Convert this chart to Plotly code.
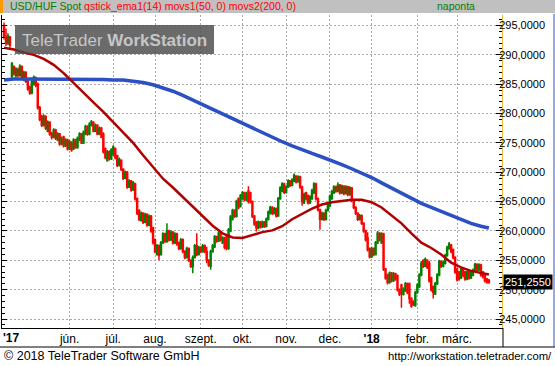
import plotly.graph_objects as go
import pandas as pd

# ---------------- data ----------------
opens = [
    295.0, 293.0, 292.0, 293.0, 286.3, 288.0, 286.5, 287.5, 286.5, 288.0,
    285.8, 287.0, 285.5, 284.5, 283.5, 285.0, 286.0, 285.0, 281.0, 279.5,
    278.0, 279.5, 277.0, 278.5, 276.5, 276.0, 277.2, 275.5, 276.5, 274.8,
    276.0, 274.5, 275.5, 274.0, 275.0, 274.0, 275.5, 274.2, 275.5, 276.5,
    275.0, 276.5, 277.8, 276.5, 278.0, 278.5, 277.0, 278.0, 276.5, 277.5,
    276.5, 274.0, 272.0, 273.5, 272.3, 273.0, 274.0, 272.8, 271.2, 272.0,
    270.5, 269.0, 270.0, 267.5, 268.5, 267.0, 268.0, 265.5, 263.5, 261.8,
    263.0, 261.5, 262.8, 261.0, 262.5, 260.5, 258.5, 256.0, 257.5, 256.0,
    258.0, 259.5, 258.2, 260.0, 258.5, 259.8, 258.0, 259.5, 258.0, 257.0,
    258.5, 256.5, 255.5, 257.0, 255.0, 254.0, 255.5, 257.5, 256.0, 257.2,
    256.5, 257.5, 256.5, 255.0, 254.0, 256.5, 257.3, 259.0, 258.3, 259.6,
    258.0, 258.8, 259.3, 257.0, 260.0, 262.0, 263.5, 262.5, 265.5, 264.2,
    265.5, 266.5, 265.3, 266.8, 266.5, 265.0, 262.5, 261.5, 260.5, 261.5,
    260.7, 261.5, 260.8, 262.0, 263.0, 264.0, 263.0, 263.8, 262.6, 265.5,
    266.8, 268.0, 266.6, 267.5, 268.5, 267.8, 268.5, 269.3, 268.4, 269.2,
    267.5, 264.8, 266.5, 266.0, 264.8, 265.5, 266.5, 268.0, 265.5, 263.6,
    262.0, 263.0, 262.0, 263.5, 264.3, 265.5, 266.5, 267.5, 266.8, 267.8,
    266.5, 267.6, 266.4, 267.5, 266.2, 267.3, 265.2, 264.0, 263.0, 262.0,
    262.6, 261.3, 260.0, 258.8, 257.0, 255.6, 257.0, 256.0, 258.0, 259.6,
    258.0, 259.5, 253.5, 252.5, 251.2, 252.8, 251.5, 252.7, 252.4, 250.0,
    250.8, 249.2, 249.8, 251.0, 251.0, 248.5, 248.0, 247.3, 249.5, 250.5,
    252.5, 255.0, 254.0, 255.0, 254.5, 252.0, 250.5, 249.3, 251.0, 252.5,
    254.8, 254.0, 254.5, 255.8, 257.0, 257.6, 256.8, 255.5, 253.5, 253.0,
    252.0, 253.5, 253.0, 251.8, 253.0, 252.0, 252.5, 253.2, 254.3, 253.4,
    254.2, 253.0, 252.5, 251.8, 251.6,
]
closes = [
    293.0, 292.0, 293.2, 291.7, 288.5, 286.8, 287.6, 286.5, 288.0, 286.0,
    287.0, 285.5, 284.2, 283.5, 285.5, 286.2, 284.8, 281.0, 279.0, 278.0,
    279.5, 277.5, 278.5, 276.5, 276.0, 277.2, 275.8, 276.5, 274.8, 275.8,
    274.5, 275.5, 274.0, 275.2, 273.8, 275.5, 274.2, 275.8, 276.5, 275.0,
    276.8, 277.8, 276.5, 278.2, 278.6, 277.0, 278.0, 276.5, 277.5, 276.0,
    273.5, 272.5, 273.5, 272.3, 273.8, 274.3, 272.5, 271.2, 272.2, 270.5,
    269.0, 270.0, 267.5, 268.5, 267.0, 268.2, 265.5, 263.0, 262.0, 263.0,
    261.5, 262.8, 261.0, 262.5, 260.0, 258.0, 256.5, 257.5, 255.8, 258.0,
    259.5, 258.2, 260.0, 258.5, 259.8, 258.0, 259.5, 257.8, 257.0, 258.5,
    256.5, 255.5, 257.0, 255.0, 254.0, 255.5, 257.5, 256.0, 257.2, 256.5,
    257.5, 256.5, 255.0, 254.2, 256.5, 257.5, 259.0, 258.3, 259.6, 258.5,
    258.8, 257.2, 257.0, 260.2, 262.4, 263.5, 262.5, 265.0, 264.0, 266.0,
    266.5, 265.3, 266.4, 265.0, 265.0, 262.5, 261.2, 260.5, 261.5, 260.7,
    261.5, 260.8, 262.0, 263.2, 264.0, 263.0, 263.8, 262.6, 265.5, 267.3,
    268.0, 266.6, 267.5, 268.5, 267.8, 268.7, 269.5, 268.4, 269.2, 267.5,
    265.0, 266.2, 265.5, 264.8, 265.8, 266.9, 268.0, 265.5, 263.6, 262.0,
    263.0, 262.0, 263.5, 264.5, 265.9, 266.7, 267.5, 266.8, 267.8, 266.5,
    267.6, 266.4, 267.5, 266.2, 267.3, 265.2, 264.0, 263.0, 262.0, 262.6,
    261.3, 260.0, 258.5, 256.8, 255.6, 257.0, 256.0, 258.0, 259.6, 258.5,
    259.5, 253.5, 252.0, 251.2, 252.8, 251.5, 252.7, 251.8, 250.0, 249.2,
    249.3, 250.1, 251.0, 249.5, 248.5, 247.2, 247.5, 249.5, 250.8, 252.5,
    254.5, 254.0, 255.2, 253.8, 251.5, 250.0, 249.5, 251.0, 252.5, 254.8,
    254.0, 254.6, 255.8, 257.2, 257.8, 256.5, 255.5, 253.0, 251.7, 251.8,
    253.5, 252.4, 251.8, 253.0, 252.0, 253.0, 253.3, 254.3, 253.4, 254.2,
    252.5, 252.2, 251.5, 251.3, 251.255,
]
highs = [
    295.5, 294.5, 293.7, 293.2, 288.8, 288.2, 287.9, 287.8, 288.4, 288.2,
    287.3, 287.2, 285.8, 284.8, 285.8, 286.5, 286.3, 285.3, 281.3, 279.8,
    279.9, 279.7, 278.8, 278.7, 276.9, 277.5, 277.4, 276.8, 276.7, 276.1,
    276.2, 275.8, 275.7, 275.5, 275.3, 275.8, 275.7, 276.1, 276.8, 276.7,
    277.1, 278.1, 278.0, 278.5, 278.9, 278.7, 278.3, 278.2, 277.8, 277.7,
    276.8, 274.2, 273.8, 273.7, 274.1, 274.6, 274.2, 273.0, 272.5, 272.2,
    270.7, 270.3, 270.2, 268.8, 268.7, 268.5, 268.2, 265.7, 263.7, 263.3,
    263.2, 263.1, 263.0, 262.8, 262.7, 260.7, 258.7, 257.8, 257.7, 258.3,
    259.8, 259.7, 261.3, 260.2, 260.1, 260.0, 259.8, 259.7, 258.2, 258.8,
    258.7, 256.7, 257.3, 257.2, 255.2, 255.8, 257.8, 259.6, 257.5, 257.4,
    257.8, 257.7, 257.3, 255.2, 256.8, 257.8, 259.3, 259.2, 259.9, 259.8,
    259.1, 259.0, 259.5, 260.5, 262.7, 263.8, 263.7, 265.3, 265.7, 266.3,
    266.8, 266.7, 266.7, 267.6, 266.7, 265.2, 262.7, 261.7, 261.8, 261.7,
    261.8, 261.7, 262.3, 263.5, 264.3, 264.2, 264.1, 264.0, 265.8, 267.6,
    268.3, 268.2, 267.8, 268.8, 268.7, 269.0, 269.8, 269.5, 269.5, 269.4,
    267.7, 266.5, 266.7, 266.2, 266.1, 267.2, 268.3, 268.2, 265.7, 263.8,
    263.3, 263.2, 263.8, 264.8, 266.2, 267.0, 267.8, 267.7, 268.3, 268.0,
    267.9, 267.8, 267.8, 267.7, 267.6, 267.5, 265.4, 264.2, 263.2, 262.9,
    262.8, 261.5, 260.2, 259.8, 257.2, 257.3, 257.2, 258.3, 260.0, 259.8,
    259.8, 259.7, 253.7, 252.7, 253.1, 253.0, 253.0, 252.9, 252.6, 250.2,
    251.0, 250.4, 251.3, 251.2, 251.2, 248.7, 248.2, 249.8, 251.1, 252.8,
    254.9, 255.2, 255.5, 255.2, 254.9, 252.2, 250.7, 251.3, 252.8, 255.1,
    255.0, 254.9, 256.1, 257.5, 258.1, 257.8, 257.0, 255.7, 253.7, 253.2,
    253.8, 253.7, 253.2, 253.3, 253.2, 253.3, 253.6, 254.6, 254.5, 254.5,
    254.4, 253.2, 252.7, 252.0, 251.8,
]
lows = [
    292.6, 291.5, 291.7, 291.2, 286.0, 286.5, 286.0, 286.2, 286.3, 285.7,
    285.5, 285.2, 283.9, 283.2, 283.3, 284.8, 284.5, 280.7, 278.7, 277.7,
    277.8, 277.2, 276.8, 276.2, 275.6, 275.8, 275.5, 275.3, 274.5, 274.6,
    274.2, 274.3, 273.7, 273.8, 273.5, 273.8, 274.0, 274.0, 275.3, 274.8,
    274.8, 276.3, 276.2, 276.3, 277.8, 276.8, 276.8, 276.3, 276.3, 275.8,
    273.2, 272.2, 271.8, 272.0, 272.1, 272.8, 272.2, 270.9, 271.0, 270.2,
    268.7, 268.8, 267.2, 267.3, 266.7, 266.8, 265.2, 262.7, 261.7, 261.6,
    261.2, 261.3, 260.7, 260.8, 259.7, 257.7, 256.2, 255.8, 255.0, 255.8,
    257.8, 258.0, 258.0, 258.2, 258.3, 257.7, 257.8, 257.5, 256.7, 256.8,
    256.2, 255.2, 255.3, 254.7, 253.7, 252.8, 255.3, 255.7, 255.8, 256.2,
    256.3, 256.2, 254.5, 253.9, 253.4, 256.3, 257.1, 258.0, 258.1, 258.2,
    257.8, 256.9, 256.7, 256.8, 259.8, 261.8, 262.2, 262.3, 263.7, 264.0,
    265.3, 265.0, 265.1, 264.7, 264.7, 262.2, 260.9, 259.9, 260.3, 260.4,
    260.5, 260.5, 260.6, 261.8, 262.8, 262.7, 262.8, 262.3, 262.4, 265.3,
    266.6, 266.3, 266.4, 267.3, 267.5, 267.6, 268.3, 268.1, 268.2, 267.2,
    264.3, 264.6, 265.2, 264.5, 264.6, 265.3, 266.3, 265.2, 263.3, 260.2,
    261.8, 261.7, 261.8, 263.3, 264.1, 265.3, 266.3, 266.5, 266.6, 266.2,
    266.3, 266.1, 266.2, 265.9, 266.0, 264.9, 263.7, 262.7, 261.7, 261.8,
    261.0, 259.7, 258.2, 256.5, 255.3, 255.4, 255.7, 255.8, 257.8, 258.2,
    257.8, 253.2, 251.7, 250.9, 251.0, 251.2, 251.3, 251.5, 249.7, 248.9,
    246.9, 249.0, 249.6, 249.2, 247.6, 246.9, 247.2, 247.1, 249.3, 250.3,
    252.3, 253.7, 253.8, 253.5, 251.2, 249.7, 248.5, 249.1, 250.8, 252.3,
    253.7, 253.8, 254.3, 255.6, 256.8, 256.2, 255.2, 252.7, 251.4, 251.5,
    251.8, 252.1, 251.5, 251.6, 251.7, 251.8, 252.3, 253.0, 253.1, 253.2,
    252.2, 251.9, 251.2, 251.0, 251.0,
]

# moving averages, sampled every 5th trading day (index into the daily series)
ma_index = [0, 5, 10, 15, 20, 25, 30, 35, 40, 45, 50, 55, 60, 65, 70, 75, 80,
            85, 90, 95, 100, 105, 110, 115, 120, 125, 130, 135, 140, 145, 150,
            155, 160, 165, 170, 175, 180, 185, 190, 195, 200, 205, 210, 215,
            220, 225, 230, 235, 240, 244]
movs50 = [291.2, 290.9, 290.4, 290.0, 289.3, 288.3, 286.9, 285.2, 283.5, 281.9,
          280.3, 278.5, 276.8, 275.0, 272.9, 270.8, 268.9, 267.4, 265.8, 264.2,
          262.6, 260.9, 259.6, 258.9, 258.8, 259.3, 259.8, 260.1, 260.8, 262.0,
          262.9, 263.8, 264.5, 264.9, 265.1, 265.3, 265.3, 264.9, 264.0, 262.7,
          261.3, 259.6, 258.0, 257.1, 256.0, 254.6, 253.8, 253.2, 252.9, 252.6]
movs200 = [285.7, 285.9, 285.9, 285.9, 285.9, 285.9, 285.8, 285.8, 285.8, 285.8,
           285.8, 285.7, 285.7, 285.5, 285.3, 284.9, 284.4, 283.8, 283.1, 282.3,
           281.5, 280.8, 280.0, 279.2, 278.4, 277.6, 276.8, 276.0, 275.2, 274.5,
           273.8, 273.2, 272.6, 272.0, 271.3, 270.6, 269.9, 269.1, 268.2, 267.3,
           266.4, 265.5, 264.7, 264.0, 263.3, 262.6, 261.9, 261.3, 260.8, 260.5]

first_day = "2017-04-17"
month_ticks = ["2017-06-01", "2017-07-03", "2017-08-01", "2017-09-01",
               "2017-10-02", "2017-11-01", "2017-12-01", "2018-01-01",
               "2018-02-01", "2018-03-01"]
month_labels = ["jún.", "júl.", "aug.", "szept.", "okt.", "nov.", "dec.",
                "<b>'18</b>", "febr.", "márc."]
year_label_date = "2017-04-21"
year_label = "<b>'17</b>"

title_main = "USD/HUF Spot"
title_ind = "qstick_ema1(14) movs1(50, 0) movs2(200, 0)"
title_period = "naponta"
footer_left = "© 2018 TeleTrader Software GmbH"
footer_right = "http://workstation.teletrader.com/"

# ---------------- figure ----------------
W, H = 555, 366
ML, MR, MT, MB = 2, 53, 15, 38
PW = W - ML - MR
PH = H - MT - MB
FONT = "Liberation Sans, Arial, sans-serif"


def fx(px):
    return (px - ML) / PW


def fy(py):
    return (H - MB - py) / PH


dates = pd.bdate_range(first_day, periods=len(closes))
ma_dates = [dates[i] for i in ma_index]

fig = go.Figure()
fig.add_trace(go.Candlestick(
    x=dates, open=opens, high=highs, low=lows, close=closes,
    increasing=dict(line=dict(color="#008000", width=1.5), fillcolor="#008000"),
    decreasing=dict(line=dict(color="#ff0000", width=1.5), fillcolor="#ff0000"),
    whiskerwidth=0, showlegend=False, hoverinfo="skip",
))
fig.add_trace(go.Scatter(x=ma_dates, y=movs200, mode="lines",
                         line=dict(color="#2b4fc4", width=3.5),
                         showlegend=False, hoverinfo="skip"))
fig.add_trace(go.Scatter(x=ma_dates, y=movs50, mode="lines",
                         line=dict(color="#b00000", width=2.5),
                         showlegend=False, hoverinfo="skip"))
# left tick-only axis
fig.add_trace(go.Scatter(x=[dates[0]], y=[closes[0]], yaxis="y2", mode="markers",
                         marker=dict(opacity=0), showlegend=False, hoverinfo="skip"))

y_lo, y_hi = 243.47, 296.79
grid = dict(gridcolor="#a8a8a8", griddash="2px,2px", gridwidth=1)

fig.update_layout(
    width=W, height=H,
    margin=dict(l=ML, r=MR, t=MT, b=MB, pad=0),
    paper_bgcolor="white", plot_bgcolor="white",
    separators=", ",
    font=dict(family=FONT, size=11, color="black"),
    xaxis=dict(
        type="date", range=["2017-04-14", "2018-04-02 14:24"],
        rangebreaks=[dict(bounds=["sat", "mon"])],
        rangeslider=dict(visible=False),
        tickmode="array", tickvals=month_ticks, ticktext=month_labels,
        tickfont=dict(size=12, color="black", family=FONT),
        ticks="", showline=True, linecolor="black", linewidth=1,
        showgrid=True, zeroline=False, **grid,
    ),
    yaxis=dict(
        side="right", range=[y_lo, y_hi], tick0=245, dtick=5,
        tickformat=".4f", ticks="inside", ticklen=6, tickcolor="black",
        minor=dict(dtick=1, ticks="inside", ticklen=3, tickcolor="black", showgrid=False),
        showline=True, linecolor="#e8b840", linewidth=1,
        tickfont=dict(size=11, color="black", family=FONT),
        ticklabelstandoff=-6,
        showgrid=True, zeroline=False, **grid,
    ),
    yaxis2=dict(
        overlaying="y", side="left", anchor="x", matches="y",
        range=[y_lo, y_hi], tick0=245, dtick=5,
        ticks="inside", ticklen=5, tickcolor="black",
        minor=dict(dtick=1, ticks="inside", ticklen=3, tickcolor="black", showgrid=False),
        showticklabels=False, showline=True, linecolor="black", linewidth=1,
        showgrid=False, zeroline=False,
    ),
)

shapes = [
    # header bar
    dict(type="rect", xref="paper", yref="paper", x0=fx(0), x1=fx(W), y0=fy(13), y1=fy(0),
         fillcolor="#c0c0c0", line=dict(width=0), layer="above"),
    dict(type="rect", xref="paper", yref="paper", x0=fx(0), x1=fx(3), y0=fy(13), y1=fy(0),
         fillcolor="#ff9900", line=dict(width=0), layer="above"),
    # watermark box
    dict(type="rect", xref="paper", yref="paper", x0=fx(15), x1=fx(214), y0=fy(54), y1=fy(25),
         fillcolor="#4a4a4a", opacity=0.82, line=dict(width=0), layer="above"),
    # label row bottom line & separators
    dict(type="line", xref="paper", yref="paper", x0=fx(0), x1=fx(W), y0=fy(347), y1=fy(347),
         line=dict(color="black", width=1)),
    dict(type="line", xref="paper", yref="paper", x0=fx(503), x1=fx(503), y0=fy(347), y1=fy(328),
         line=dict(color="black", width=1)),
    dict(type="line", xref="paper", yref="paper", x0=fx(554), x1=fx(554), y0=fy(347), y1=fy(14),
         line=dict(color="#3050c0", width=1)),
]
fig.update_layout(shapes=shapes)

anns = [
    dict(xref="paper", yref="paper", x=fx(8), y=fy(6.5), xanchor="left", yanchor="middle",
         showarrow=False,
         text=f"<span style='color:#008000'>{title_main}</span> "
              f"<span style='color:#ff0000'>{title_ind}</span>",
         font=dict(size=10.5, family=FONT)),
    dict(xref="paper", yref="paper", x=fx(435), y=fy(6.5), xanchor="left", yanchor="middle",
         showarrow=False, text=title_period, font=dict(size=10.5, family=FONT, color="#008000")),
    dict(xref="paper", yref="paper", x=fx(114), y=fy(40), xanchor="center", yanchor="middle",
         showarrow=False, text="TeleTrader <b>WorkStation</b>",
         font=dict(size=17, family=FONT, color="#c6c6c6")),
    dict(xref="x", yref="paper", x=year_label_date, y=fy(338), xanchor="center", yanchor="middle",
         showarrow=False, text=year_label, font=dict(size=12, family=FONT, color="black")),
    dict(xref="paper", yref="y", x=1, xshift=1, y=closes[-1], xanchor="left", yanchor="middle",
         showarrow=False, text=f"{closes[-1]:.4f}".replace(".", ","),
         bgcolor="black", borderpad=1, font=dict(size=11, family=FONT, color="white")),
    dict(xref="paper", yref="paper", x=fx(2), y=fy(356), xanchor="left", yanchor="middle",
         showarrow=False, text=footer_left, font=dict(size=12.5, family=FONT, color="black")),
    dict(xref="paper", yref="paper", x=fx(554), y=fy(356), xanchor="right", yanchor="middle",
         showarrow=False, text=footer_right, font=dict(size=11.3, family=FONT, color="black")),
]
fig.update_layout(annotations=anns)

fig.write_html("out.html", config={"displayModeBar": False},
               post_script="document.body.style.margin='0';document.body.style.overflow='hidden';")
